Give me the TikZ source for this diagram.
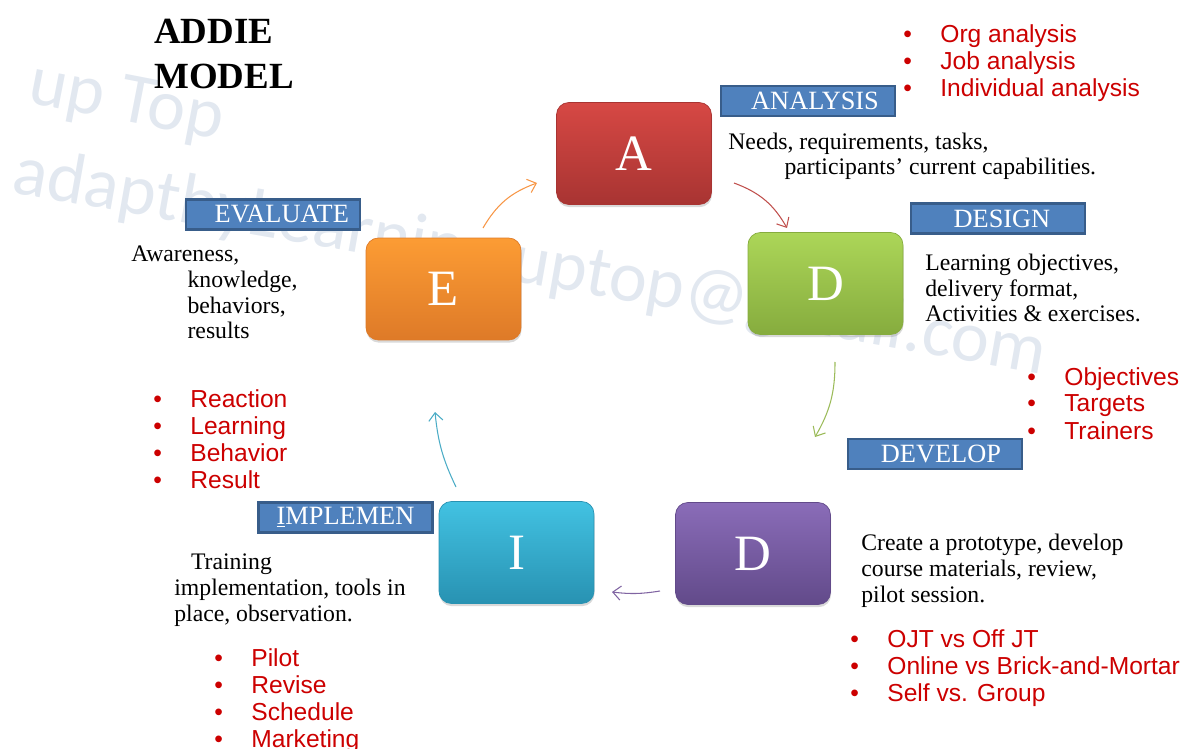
\documentclass[tikz,border=0pt]{standalone}
\usepackage{fontspec}
\setmainfont{Liberation Serif}
\newfontfamily\arialf{Liberation Sans}
\newfontfamily\markf{Carlito}
\usepackage{tikz}
\usetikzlibrary{shadows}
\usetikzlibrary{calc,arrows.meta}
\usepackage{xcolor}
\definecolor{lblue}{RGB}{79,129,189}
\definecolor{dblue}{RGB}{56,93,138}
\definecolor{listred}{RGB}{204,0,0}
\definecolor{wmark}{RGB}{226,232,240}
\definecolor{redT}{RGB}{214,72,68}
\definecolor{redB}{RGB}{168,52,50}
\definecolor{grnT}{RGB}{172,214,88}
\definecolor{grnB}{RGB}{134,172,62}
\definecolor{purT}{RGB}{138,108,184}
\definecolor{purB}{RGB}{98,74,138}
\definecolor{cyaT}{RGB}{66,194,226}
\definecolor{cyaB}{RGB}{40,146,178}
\definecolor{orgT}{RGB}{252,156,52}
\definecolor{orgB}{RGB}{222,122,40}
\definecolor{arOrg}{RGB}{247,150,70}
\definecolor{arRed}{RGB}{192,80,77}
\definecolor{arGrn}{RGB}{155,187,89}
\definecolor{arPur}{RGB}{128,100,162}
\definecolor{arCya}{RGB}{75,172,198}
\tikzstyle{letterbox}=[rounded corners=7pt, minimum width=3.1cm, minimum height=2.04cm, inner sep=0, line width=0.4pt, text=white, font=\fontsize{29}{30}\selectfont, drop shadow={shadow xshift=0.3pt, shadow yshift=-1.5pt, opacity=0.3}]
\tikzstyle{phase}=[draw=dblue, fill=lblue, line width=1.3pt, minimum width=3.48cm, minimum height=0.6cm, inner sep=0, text=white, font=\fontsize{15}{18}\selectfont]
\tikzstyle{desc}=[anchor=base west, inner sep=0, align=left, font=\fontsize{13.5}{14.7}\selectfont]
\tikzstyle{redtxt}=[anchor=base west, inner sep=0, text=listred, font=\arialf\fontsize{14}{16}\selectfont]
\tikzstyle{cyc}=[->, line width=0.6pt]
\newcommand{\addiebox}[5]{
\node[letterbox, top color=#3, bottom color=#4, draw=#4] (#1) at (#2) {#5};
}
\newcommand{\redlist}[4]{
\foreach \t [count=\i] in {#4} {
	\node[redtxt] (#1\i) at (#2, {#3+(\i-1)*27}) {\t};
	\node[redtxt] (#1b\i) at ($(#1\i.base west)+(-37,0)$) {\textbullet};
}
}

\begin{document}
\begin{tikzpicture}[x=0.02cm, y=-0.02cm, >={Straight Barb[length=4.5pt,width=8pt]}]
\useasboundingbox (0,0) rectangle (1182,749);
% watermark
\node[anchor=base west, inner sep=0, rotate=-11, text=wmark, font=\markf\fontsize{41}{41}\selectfont] (wm1) at (26,102) {up Top};
\node[anchor=base west, inner sep=0, rotate=-10, text=wmark, font=\markf\fontsize{41}{41}\selectfont] (wm2) at (10,192) {adaptbyLearning uptop@gmail.com};
% title (base = last line)
\node[anchor=base west, inner sep=0, align=left, font=\bfseries\fontsize{21}{26}\selectfont] (title) at (154,89) {ADDIE\\MODEL};
% the five phases
\addiebox{bA}{634,153.5}{redT}{redB}{A}
\addiebox{bD}{825.5,283.5}{grnT}{grnB}{D}
\addiebox{bV}{753,553.5}{purT}{purB}{D}
\addiebox{bI}{516.5,552.5}{cyaT}{cyaB}{I}
\addiebox{bE}{443.5,289}{orgT}{orgB}{E}
% phase labels
\node[phase] (lA) at (808,101) {\hspace*{8pt}ANALYSIS};
\node[phase] (lD) at (998,218.5) {\hspace*{4.5pt}DESIGN};
\node[phase] (lV) at (935,454) {\hspace*{6.8pt}DEVELOP};
\node[phase] (lI) at (345.5,517.5) {\underline{I}MPLEMEN};
\node[phase] (lE) at (273,214.5) {\hspace*{10pt}EVALUATE};
% descriptions (base = last line)
\node[desc] (tA) at (728,175) {Needs, requirements, tasks,\\\hspace*{32pt}participants’ current capabilities.};
\node[desc] (tD) at (925,322) {Learning objectives,\\delivery format,\\Activities \& exercises.};
\node[desc] (tV) at (861,602) {Create a prototype, develop\\course materials, review,\\pilot session.};
\node[desc] (tI) at (174,621) {\hspace*{9.5pt}Training\\implementation, tools in\\place, observation.};
\node[desc] (tE) at (131,339) {Awareness,\\\hspace*{32pt}knowledge,\\\hspace*{32pt}behaviors,\\\hspace*{32pt}results};
% red lists
\redlist{an}{940}{43}{Org analysis, Job analysis, Individual analysis}
\redlist{de}{1064}{385}{Objectives, Targets, Trainers}
\redlist{dv}{887}{647}{OJT vs Off JT, Online vs Brick-and-Mortar, Self vs. Group}
\redlist{im}{251}{666}{Pilot, Revise, Schedule, Marketing}
\redlist{ev}{190}{407}{Reaction, Learning, Behavior, Result}
% cycle arrows
\coordinate (eA) at (483,228);
\coordinate (eB) at (537,183);
\coordinate (aA) at (734,183);
\coordinate (aB) at (787,228);
\coordinate (dA) at (835,362);
\coordinate (dB) at (815,437);
\coordinate (vA) at (660,591);
\coordinate (vB) at (612,592);
\coordinate (iA) at (456,487);
\coordinate (iB) at (435,412);
\draw[cyc, arOrg] (eA) to[bend left=20] (eB);
\draw[cyc, arRed] (aA) to[bend left=20] (aB);
\draw[cyc, arGrn] (dA) to[bend left=15] (dB);
\draw[cyc, arPur] (vA) to[bend left=8] (vB);
\draw[cyc, arCya] (iA) to[bend left=10] (iB);
\end{tikzpicture}
\end{document}
